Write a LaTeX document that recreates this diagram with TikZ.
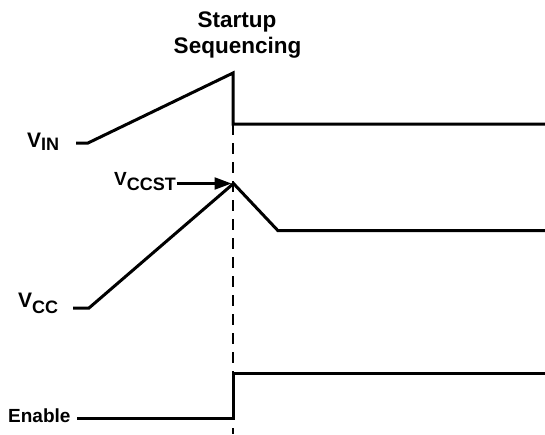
\documentclass[tikz,border=0pt]{standalone}
\usepackage{fontspec}
\setmainfont{Liberation Sans}
\usetikzlibrary{arrows.meta}
\begin{document}
\begin{tikzpicture}[x=1pt,y=-1pt,
  wave/.style={line width=3pt, line join=miter},
  guide/.style={line width=2.6pt, dash pattern=on 11pt off 8pt},
  lbl/.style={font=\bfseries, inner sep=0pt, anchor=base west},
  ttl/.style={font=\bfseries\fontsize{22.5}{22.5}\selectfont, inner sep=0pt, anchor=base},
  ptr/.style={line width=2.2pt, -{Triangle[length=17pt,width=12pt]}}]
\useasboundingbox (0,0) rectangle (545,434);
% title
\node[ttl] (t1) at (237,27) {Startup};
\node[ttl] (t2) at (237.5,53) {Sequencing};
% labels
\newcommand{\Vsub}[3]{{\fontsize{#1}{#1}\selectfont V}\raisebox{#2}{\fontsize{18}{18}\selectfont #3}}
\node[lbl] (lvin) at (27,147) {\Vsub{21}{-3pt}{IN}};
\node[lbl] (lvcc) at (18,307) {\Vsub{21}{-6pt}{CC}};
\node[lbl] (lvccst) at (114,185) {\Vsub{19}{-5pt}{CCST}};
\node[lbl, font=\bfseries\fontsize{19}{19}\selectfont] (len) at (8,422) {Enable};
% coordinates
\coordinate (vin0) at (76,143);
\coordinate (vin1) at (88,143);
\coordinate (vin2) at (233,73);
\coordinate (vin3) at (233,124);
\coordinate (vin4) at (545,124);
\coordinate (vcc0) at (73,308);
\coordinate (vcc1) at (89,308);
\coordinate (peak) at (233.5,183.5);
\coordinate (vcc3) at (278,230.7);
\coordinate (vcc4) at (545,230.7);
\coordinate (en0) at (77,418);
\coordinate (en1) at (233,418);
\coordinate (en2) at (233,373);
\coordinate (en3) at (545,373);
\coordinate (dtop) at (233,124);
\coordinate (dbot) at (233,434);
% guide
\draw[guide] (dtop) -- (dbot);
% waves
\draw[wave] (vin0) -- (vin1) -- (vin2) -- (vin3) -- (vin4);
\draw[wave] (vcc0) -- (vcc1) -- (peak) -- (vcc3) -- (vcc4);
\draw[wave] (en0) -- (en1) -- (en2) -- (en3);
% pointer
\draw[ptr] (lvccst.east |- peak) ++(0.5,0) -- ([xshift=-2pt]peak);
\end{tikzpicture}
\end{document}
